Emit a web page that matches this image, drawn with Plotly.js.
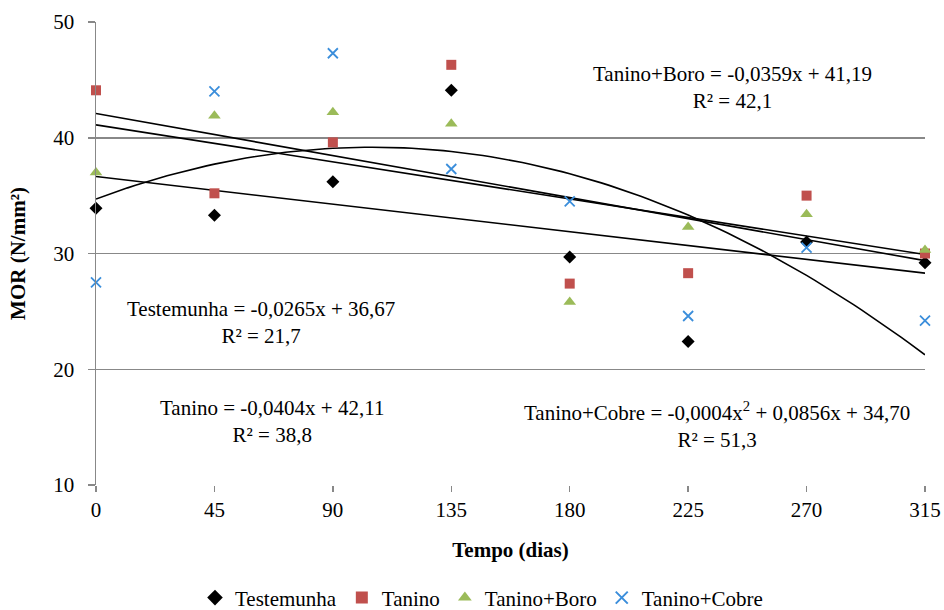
<!DOCTYPE html>
<html>
<head>
<meta charset="utf-8">
<script src="https://cdn.plot.ly/plotly-3.0.1.min.js"></script>
<style>html,body{margin:0;padding:0;background:#fff;}#chart{width:944px;height:610px;}</style>
</head>
<body>
<div id="chart"></div>
<script>
const dias = [0, 45, 90, 135, 180, 225, 270, 315];
const testemunha = [33.9, 33.3, 36.2, 44.1, 29.7, 22.4, 31.0, 29.2];
const tanino = [44.1, 35.2, 39.6, 46.3, 27.4, 28.3, 35.0, 30.0];
const taninoBoro = [37.0, 41.9, 42.2, 41.2, 25.8, 32.3, 33.4, 30.3];
const taninoCobre = [27.5, 44.0, 47.3, 37.3, 34.5, 24.6, 30.5, 24.2];
const seriesNames = ["Testemunha", "Tanino", "Tanino+Boro", "Tanino+Cobre"];
const yTicks = [10, 20, 30, 40, 50];
const xTicks = [0, 45, 90, 135, 180, 225, 270, 315];
const eqTexts = [
  "Testemunha = -0,0265x + 36,67<br>R² = 21,7",
  "Tanino = -0,0404x + 42,11<br>R² = 38,8",
  "Tanino+Boro = -0,0359x + 41,19<br>R² = 42,1",
  "Tanino+Cobre = -0,0004x<sup>2</sup> + 0,0856x + 34,70<br>R² = 51,3"
];

// least squares polynomial fit (degree 1 or 2)
function polyfit(xs, ys, deg) {
  const n = deg + 1;
  const A = [];
  for (let i = 0; i < n; i++) {
    A.push([]);
    for (let j = 0; j < n; j++) {
      let s = 0; for (const x of xs) s += Math.pow(x, i + j);
      A[i].push(s);
    }
    let s = 0; xs.forEach((x, k) => s += Math.pow(x, i) * ys[k]);
    A[i].push(s);
  }
  for (let i = 0; i < n; i++) {
    let p = i; for (let r = i + 1; r < n; r++) if (Math.abs(A[r][i]) > Math.abs(A[p][i])) p = r;
    [A[i], A[p]] = [A[p], A[i]];
    for (let r = 0; r < n; r++) {
      if (r === i) continue;
      const f = A[r][i] / A[i][i];
      for (let c = i; c <= n; c++) A[r][c] -= f * A[i][c];
    }
  }
  return A.map((row, i) => row[n] / row[i]);
}
function fitLine(ys, deg) {
  const c = polyfit(dias, ys, deg);
  const xs = [], yv = [];
  for (let x = 0; x <= 315; x += 3) {
    xs.push(x);
    let v = 0; c.forEach((ci, i) => v += ci * Math.pow(x, i));
    yv.push(v);
  }
  return {x: xs, y: yv};
}

const font = "Liberation Serif, Times New Roman, serif";
const datasets = [testemunha, tanino, taninoBoro, taninoCobre];
const markers = [
  {symbol: "diamond", size: 10, color: "#000000"},
  {symbol: "square", size: 10, color: "#C0504D"},
  {symbol: "triangle-up", size: 11, color: "#9BBB59"},
  {symbol: "x-thin", size: 10, color: "#3B8EDB", line: {color: "#3B8EDB", width: 1.8}}
];
const traces = [];
datasets.forEach((ys, i) => {
  const f = fitLine(ys, i === 3 ? 2 : 1);
  traces.push({x: f.x, y: f.y, mode: "lines", line: {color: "#000", width: 1.6}, showlegend: false, hoverinfo: "skip"});
});
datasets.forEach((ys, i) => {
  traces.push({x: dias, y: ys, mode: "markers", name: seriesNames[i], marker: markers[i], cliponaxis: false});
});

function px2x(px) { return (px - 96) / (925 - 96) * 315; }
function px2y(py) { return 50 - (py - 22) / (485 - 22) * 40; }
const annFont = {family: font, size: 21, color: "#000"};
const annPos = [[732, 87], [261, 322], [272, 421], [717, 425]];
const annOrder = [2, 0, 1, 3];

const layout = {
  width: 944, height: 610,
  margin: {l: 96, r: 19, t: 22, b: 125, autoexpand: false},
  paper_bgcolor: "#fff", plot_bgcolor: "#fff",
  font: {family: font, size: 21, color: "#000"},
  xaxis: {
    range: [0, 315], tickvals: xTicks,
    showgrid: false, zeroline: false, showline: false,
    ticks: "outside", ticklen: 6, tickcolor: "#888", tickwidth: 1.5,
    tickfont: {family: font, size: 21},
    title: {text: "<b>Tempo (dias)</b>", font: {family: font, size: 21}, standoff: 21}
  },
  yaxis: {
    range: [10, 50], tickvals: yTicks,
    showgrid: true, gridcolor: "#888888", gridwidth: 1.5,
    zeroline: false, showline: true, linecolor: "#888888", linewidth: 1.5,
    ticks: "outside", ticklen: 7, tickcolor: "#888888", tickwidth: 1.5,
    ticklabelstandoff: 9,
    tickfont: {family: font, size: 21},
    title: {text: "<b>MOR (N/mm²)</b>", font: {family: font, size: 21}, standoff: 22}
  },
  legend: {
    orientation: "h", yref: "paper",
    x: 0.465, xanchor: "center", y: -0.244, yanchor: "middle",
    font: {family: font, size: 21}, itemsizing: "constant", tracegroupgap: 0
  },
  annotations: annOrder.map((k, i) => ({
    text: eqTexts[k], x: px2x(annPos[i][0]), y: px2y(annPos[i][1]),
    xref: "x", yref: "y", showarrow: false, font: annFont,
    align: "center", xanchor: "center", yanchor: "middle"
  }))
};

Plotly.newPlot("chart", traces, layout, {staticPlot: true, displayModeBar: false});
</script>
</body>
</html>
